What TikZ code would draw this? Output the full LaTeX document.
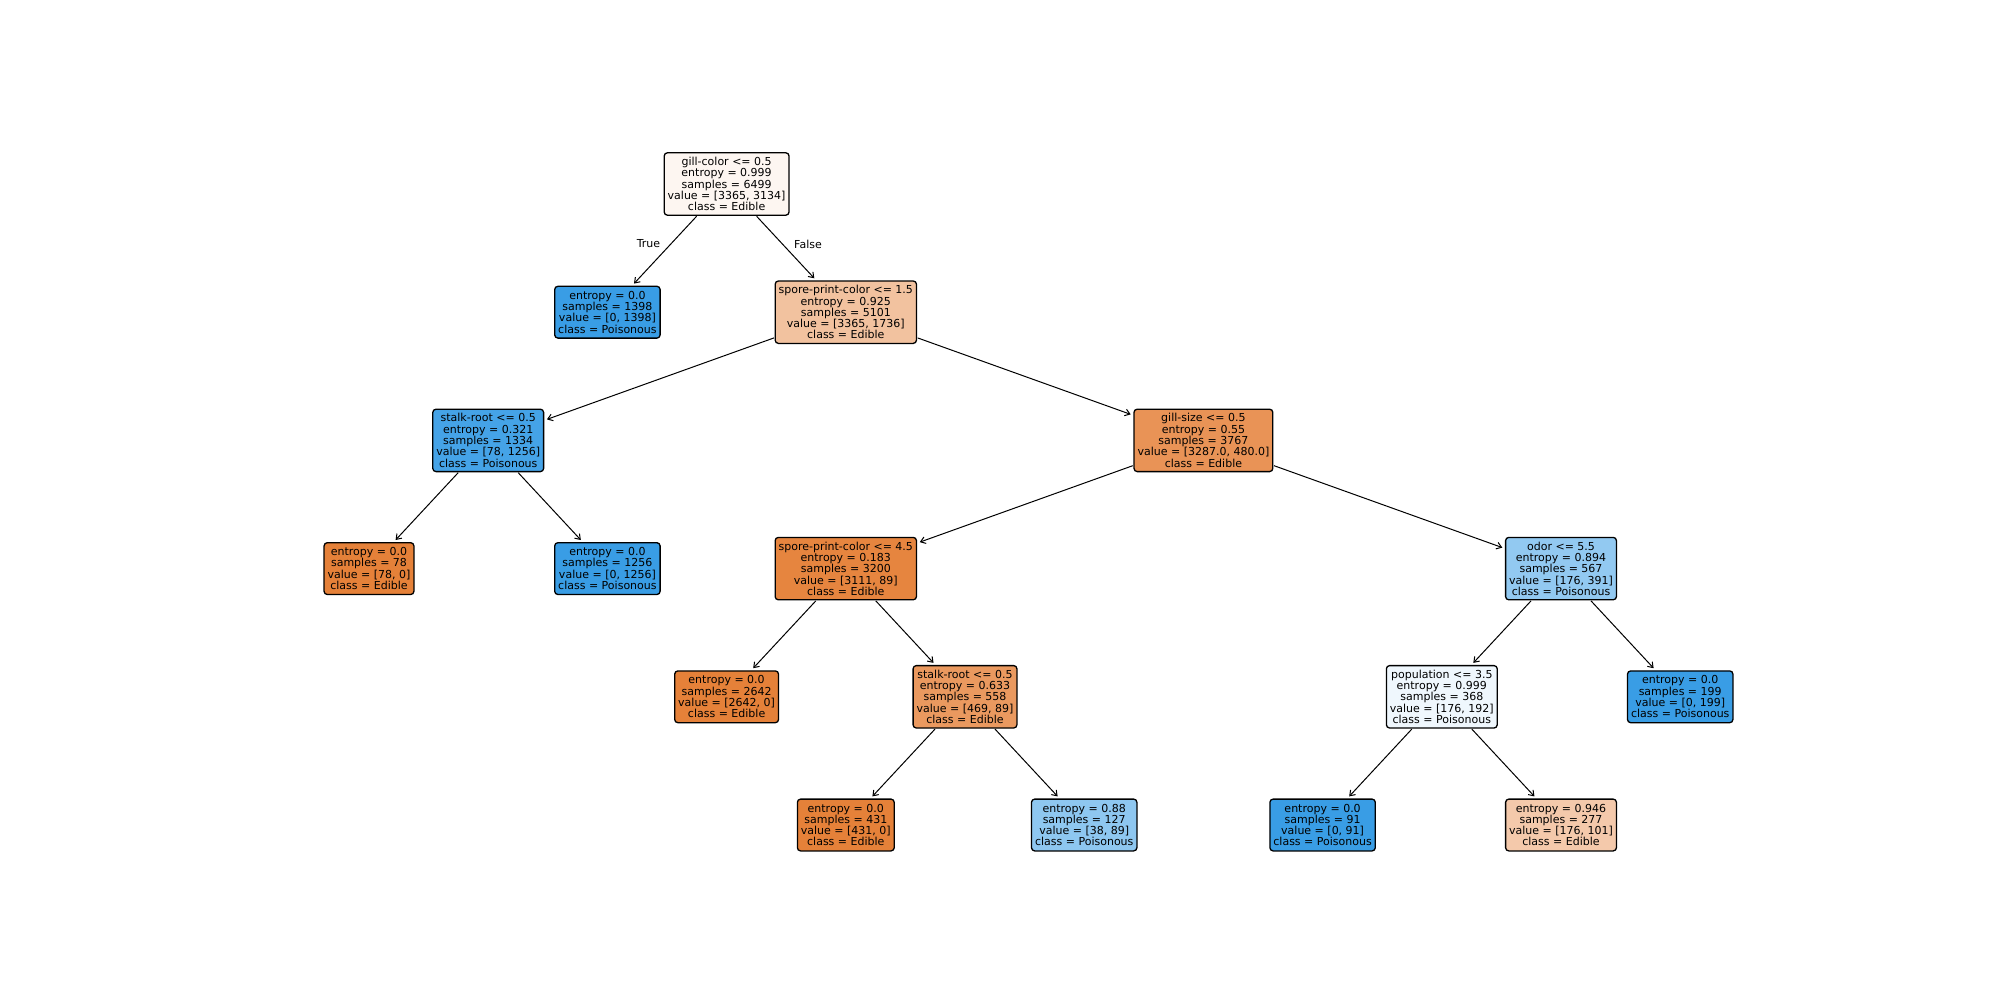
\documentclass[tikz,border=0pt]{standalone}
\usepackage{fontspec}
\setmainfont{DejaVu Sans}
\usetikzlibrary{arrows.meta}

% node fill colours (class colour blended towards white by purity)
\definecolor{cRoot}{RGB}{253,246,241}
\definecolor{cSpA}{RGB}{242,194,159}
\definecolor{cStA}{RGB}{69,163,231}
\definecolor{cGill}{RGB}{233,147,86}
\definecolor{cSpB}{RGB}{230,133,63}
\definecolor{cOdor}{RGB}{146,201,241}
\definecolor{cStB}{RGB}{234,153,95}
\definecolor{cPop}{RGB}{239,247,253}
\definecolor{cMixP}{RGB}{142,199,240}
\definecolor{cMixE}{RGB}{244,201,171}
\definecolor{cEdible}{RGB}{229,129,57}
\definecolor{cPoison}{RGB}{57,157,229}

\tikzset{
  treebox/.style={draw=black, line width=0.65pt, rounded corners=1.6pt,
    align=center, inner xsep=1.75pt, inner ysep=0pt,
    font=\fontsize{5.5pt}{5.65pt}\selectfont, text=black},
  split/.style={treebox, minimum height=31.2pt},
  leaf/.style={treebox, minimum height=25.9pt},
  edge/.style={line width=0.5pt, -{Straight Barb[length=2.4pt,width=3.4pt]},
    shorten >=1.4pt, shorten <=0.3pt},
  branchlabel/.style={font=\fontsize{5.5pt}{5.65pt}\selectfont, inner sep=0pt}
}

\begin{document}
\begin{tikzpicture}[x=0.5pt, y=-0.5pt]
\useasboundingbox (0,0) rectangle (2000,1000);

% level 0
\node[split, fill=cRoot] (n0) at (726.6,184) {gill-color <= 0.5\\entropy = 0.999\\samples = 6499\\value = [3365, 3134]\\class = Edible};
% level 1
\node[leaf, fill=cPoison] (n1) at (607.4,312.2) {entropy = 0.0\\samples = 1398\\value = [0, 1398]\\class = Poisonous};
\node[split, fill=cSpA] (n2) at (845.8,312.2) {spore-print-color <= 1.5\\entropy = 0.925\\samples = 5101\\value = [3365, 1736]\\class = Edible};
% level 2
\node[split, fill=cStA] (n3) at (488.2,440.4) {stalk-root <= 0.5\\entropy = 0.321\\samples = 1334\\value = [78, 1256]\\class = Poisonous};
\node[split, fill=cGill] (n4) at (1203.4,440.4) {gill-size <= 0.5\\entropy = 0.55\\samples = 3767\\value = [3287.0, 480.0]\\class = Edible};
% level 3
\node[leaf, fill=cEdible] (n5) at (369.0,568.6) {entropy = 0.0\\samples = 78\\value = [78, 0]\\class = Edible};
\node[leaf, fill=cPoison] (n6) at (607.4,568.6) {entropy = 0.0\\samples = 1256\\value = [0, 1256]\\class = Poisonous};
\node[split, fill=cSpB] (n7) at (845.8,568.6) {spore-print-color <= 4.5\\entropy = 0.183\\samples = 3200\\value = [3111, 89]\\class = Edible};
\node[split, fill=cOdor] (n8) at (1561.0,568.6) {odor <= 5.5\\entropy = 0.894\\samples = 567\\value = [176, 391]\\class = Poisonous};
% level 4
\node[leaf, fill=cEdible] (n9) at (726.6,696.8) {entropy = 0.0\\samples = 2642\\value = [2642, 0]\\class = Edible};
\node[split, fill=cStB] (n10) at (965.0,696.8) {stalk-root <= 0.5\\entropy = 0.633\\samples = 558\\value = [469, 89]\\class = Edible};
\node[split, fill=cPop] (n11) at (1441.8,696.8) {population <= 3.5\\entropy = 0.999\\samples = 368\\value = [176, 192]\\class = Poisonous};
\node[leaf, fill=cPoison] (n12) at (1680.2,696.8) {entropy = 0.0\\samples = 199\\value = [0, 199]\\class = Poisonous};
% level 5
\node[leaf, fill=cEdible] (n13) at (845.8,825) {entropy = 0.0\\samples = 431\\value = [431, 0]\\class = Edible};
\node[leaf, fill=cMixP] (n14) at (1084.2,825) {entropy = 0.88\\samples = 127\\value = [38, 89]\\class = Poisonous};
\node[leaf, fill=cPoison] (n15) at (1322.6,825) {entropy = 0.0\\samples = 91\\value = [0, 91]\\class = Poisonous};
\node[leaf, fill=cMixE] (n16) at (1561.0,825) {entropy = 0.946\\samples = 277\\value = [176, 101]\\class = Edible};

% branches
\draw[edge] (n0) -- (n1);
\draw[edge] (n0) -- (n2);
\draw[edge] (n2) -- (n3);
\draw[edge] (n2) -- (n4);
\draw[edge] (n3) -- (n5);
\draw[edge] (n3) -- (n6);
\draw[edge] (n4) -- (n7);
\draw[edge] (n4) -- (n8);
\draw[edge] (n7) -- (n9);
\draw[edge] (n7) -- (n10);
\draw[edge] (n8) -- (n11);
\draw[edge] (n8) -- (n12);
\draw[edge] (n10) -- (n13);
\draw[edge] (n10) -- (n14);
\draw[edge] (n11) -- (n15);
\draw[edge] (n11) -- (n16);

% branch labels of the first split
\node[branchlabel] (lblTrue) at (648.5,244) {True};
\node[branchlabel] (lblFalse) at (808,244) {False};
\end{tikzpicture}
\end{document}
